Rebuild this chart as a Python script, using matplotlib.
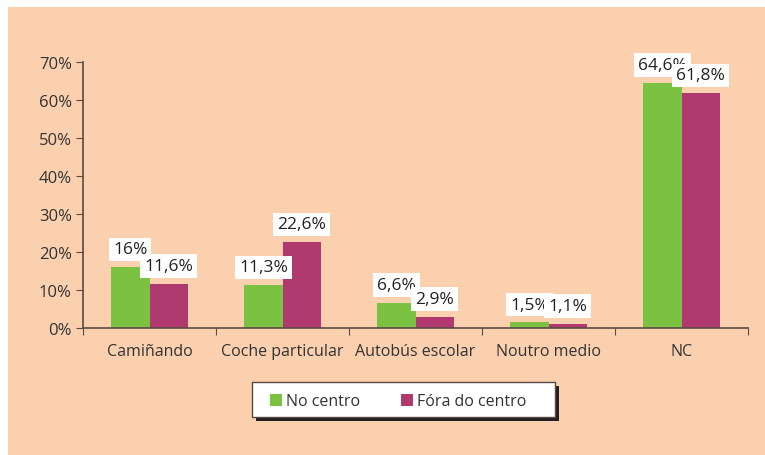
import matplotlib
matplotlib.use("Agg")
import matplotlib.pyplot as plt
import numpy as np

categories = ["Camiñando", "Coche particular", "Autobús escolar", "Noutro medio", "NC"]
no_centro = [16.0, 11.3, 6.6, 1.5, 64.6]
fora_centro = [11.6, 22.6, 2.9, 1.1, 61.8]
labels_no = ["16%", "11,3%", "6,6%", "1,5%", "64,6%"]
labels_fora = ["11,6%", "22,6%", "2,9%", "1,1%", "61,8%"]
series_names = ["No centro", "Fóra do centro"]

BG = "#fbd0ae"
GREEN = "#7bc142"
MAGENTA = "#b03a70"
TXT = "#333333"
AXC = "#5a4a44"

plt.rcParams['font.family'] = ['Open Sans', 'DejaVu Sans']

W, H = 765, 456
fig = plt.figure(figsize=(W / 100, H / 100), dpi=100)
fig.patch.set_facecolor("white")


def px_rect(x0, y0, w, h, **kw):
    # rectangle given in pixel coords from the top left corner
    r = plt.Rectangle((x0 / W, 1 - (y0 + h) / H), w / W, h / H, transform=fig.transFigure, **kw)
    fig.patches.append(r)
    return r


# peach panel (thin white margin top/left)
px_rect(8, 8, W, H, facecolor=BG, edgecolor="none", zorder=-10)

ax = fig.add_axes([83 / W, 127 / H, (748 - 83) / W, (329 - 63) / H])
ax.set_facecolor("none")

x = np.arange(len(categories)) + 0.5
w = 0.286
b1 = ax.bar(x - w / 2, no_centro, w, color=GREEN, zorder=2)
b2 = ax.bar(x + w / 2, fora_centro, w, color=MAGENTA, zorder=2)

box = dict(boxstyle="square,pad=0.22", facecolor="white", edgecolor="none")
for bars, labs in ((b1, labels_no), (b2, labels_fora)):
    for r, lab in zip(bars, labs):
        ax.annotate(lab, (r.get_x() + r.get_width() / 2, r.get_height()),
                    xytext=(0, 7), textcoords="offset points", ha="center", va="bottom",
                    fontsize=12.5, color="#222222", bbox=box, zorder=3)

ax.set_xlim(0, 5)
ax.set_ylim(0, 70)
ax.set_yticks(np.arange(0, 71, 10))
ax.set_yticklabels([f"{v}%" for v in range(0, 71, 10)])
ax.set_xticks(np.arange(0, 6))
ax.set_xticklabels([])
ax.set_xticks(x, minor=True)
ax.set_xticklabels(categories, minor=True)
ax.tick_params(axis="x", which="major", direction="out", length=5, color=AXC)
ax.tick_params(axis="x", which="minor", length=0, pad=11, labelsize=11.5, labelcolor=TXT)
ax.tick_params(axis="y", direction="out", length=5, color=AXC, labelsize=12, labelcolor=TXT, pad=3)

for s in ("top", "right"):
    ax.spines[s].set_visible(False)
for s in ("left", "bottom"):
    ax.spines[s].set_color(AXC)
    ax.spines[s].set_linewidth(1.2)

# legend box with hard drop shadow
lx, ly, lw, lh = 252, 383, 303, 35
px_rect(lx + 4, ly + 4, lw, lh, facecolor="#231f20", edgecolor="none", zorder=5)
px_rect(lx, ly, lw, lh, facecolor="white", edgecolor=AXC, linewidth=1, zorder=6)
for sx, tx, col, name in ((270, 286, GREEN, series_names[0]),
                          (401, 417, MAGENTA, series_names[1])):
    px_rect(sx, ly + lh / 2 - 6, 12, 12, facecolor=col, edgecolor="none", zorder=7)
    fig.text(tx / W, 1 - (ly + lh / 2 + 1) / H, name, ha="left", va="center",
             fontsize=11.5, color=TXT, zorder=7)

fig.savefig("out.png", dpi=100, facecolor=fig.get_facecolor())
